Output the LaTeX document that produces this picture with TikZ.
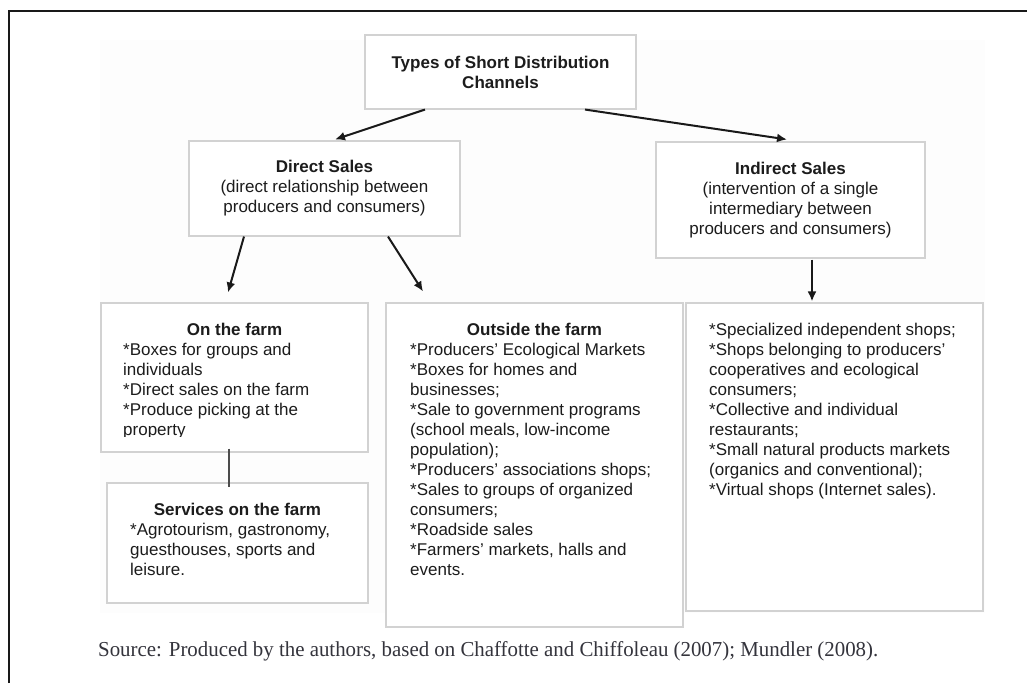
\documentclass[tikz,border=0pt]{standalone}
\usepackage{fontspec}
\setmainfont{Liberation Sans}
\newfontfamily\srcfont{Liberation Serif}
\usetikzlibrary{arrows.meta}
\definecolor{boxline}{HTML}{D2D2D2}
\definecolor{ink}{HTML}{1C1C1C}
\definecolor{srcink}{HTML}{34343C}
\definecolor{haze}{HTML}{FDFDFD}
\tikzset{
  panel/.style={draw=boxline, line width=1.1pt, fill=white, inner sep=0pt, align=center,
    text=ink, font=\fontsize{17}{20}\selectfont},
  heading/.style={anchor=base, inner sep=0pt, text=ink, font=\fontsize{17}{20}\selectfont\bfseries},
  itemlist/.style={anchor=north west, inner sep=0pt, align=left, text=ink,
    font=\fontsize{17}{20}\selectfont},
  flow/.style={draw=black!90, line width=2pt, -{Latex[length=10pt,width=9pt]}},
  joiner/.style={draw=black!70, line width=1.7pt}
}
\begin{document}
\begin{tikzpicture}[x=1pt,y=-1pt]
\useasboundingbox (0,0) rectangle (1027,683);
\fill[white] (0,0) rectangle (1027,683);
\fill[haze] (100,40) rectangle (985,613);
% page frame
\draw[line width=2pt, black!90] (8.5,683) -- (8.5,10.5) -- (1027,10.5);

% boxes
\node[panel, minimum width=271pt, minimum height=74pt] (top) at (500.5,72)
  {\textbf{Types of Short Distribution}\\\textbf{Channels}};
\node[panel, minimum width=271pt, minimum height=95pt] (direct) at (324.5,188.5)
  {\textbf{Direct Sales}\\(direct relationship between\\producers and consumers)};
\node[panel, minimum width=269pt, minimum height=116pt] (indirect) at (790.5,200)
  {\textbf{Indirect Sales}\\(intervention of a single\\intermediary between\\producers and consumers)};
\node[panel, minimum width=267pt, minimum height=149pt] (onfarm) at (234.5,377.5) {};
\node[panel, minimum width=261pt, minimum height=120pt] (services) at (237.5,543) {};
\node[panel, minimum width=297pt, minimum height=324pt] (outside) at (534.5,465) {};
\node[panel, minimum width=297pt, minimum height=308pt] (shops) at (834.5,457) {};

% box contents
\node[heading] (onfarmhead) at (234.5,335) {On the farm};
\begin{scope}
  \clip (101,300) rectangle (368,436.5);
  \node[itemlist] (onfarmlist) at (123,341)
    {\strut*Boxes for groups and\\individuals\\*Direct sales on the farm\\*Produce picking at the\\property};
\end{scope}
\node[heading] (serviceshead) at (237.5,515) {Services on the farm};
\node[itemlist] (serviceslist) at (130,521)
  {\strut*Agrotourism, gastronomy,\\guesthouses, sports and\\leisure.};
\node[heading] (outsidehead) at (534.5,335) {Outside the farm};
\node[itemlist] (outsidelist) at (410,341)
  {\strut*Producers' Ecological Markets\\*Boxes for homes and\\businesses;\\*Sale to government programs\\(school meals, low-income\\population);\\*Producers' associations shops;\\*Sales to groups of organized\\consumers;\\*Roadside sales\\*Farmers' markets, halls and\\events.};
\node[itemlist] (shopslist) at (709,321)
  {\strut*Specialized independent shops;\\*Shops belonging to producers'\\cooperatives and ecological\\consumers;\\*Collective and individual\\restaurants;\\*Small natural products markets\\(organics and conventional);\\*Virtual shops (Internet sales).};

% connectors
\draw[flow] ([xshift=-75.5pt]top.south) -- ([xshift=10.5pt,yshift=1pt]direct.north);
\draw[flow] ([xshift=84.5pt]top.south) -- ([xshift=-3.5pt,yshift=2pt]indirect.north);
\draw[flow] ([xshift=-80.5pt]direct.south) -- ([xshift=-6.5pt,yshift=10pt]onfarm.north);
\draw[flow] ([xshift=63.5pt]direct.south) -- ([xshift=-111.5pt,yshift=11pt]outside.north);
\draw[flow] ([xshift=21.5pt,yshift=-1pt]indirect.south) -- ([xshift=-22.5pt,yshift=1pt]shops.north);
\draw[joiner] ([xshift=-5.5pt,yshift=4pt]onfarm.south) -- ([xshift=-8.5pt,yshift=-5pt]services.north);

% source line
\node[anchor=base west, inner sep=0pt, text=srcink] (source) at (98,656)
  {\resizebox{780pt}{15pt}{\srcfont Source: Produced by the authors, based on Chaffotte and Chiffoleau (2007); Mundler (2008).}};
\end{tikzpicture}
\end{document}
